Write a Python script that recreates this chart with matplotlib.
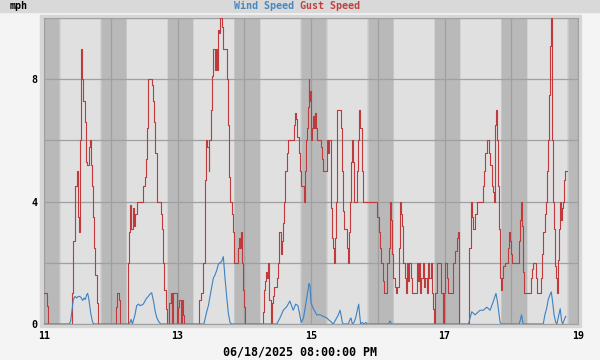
import matplotlib

matplotlib.use("Agg")
import matplotlib.pyplot as plt
from matplotlib.patches import Rectangle

# hours since 06/11 00:00 and gust speed (mph)
gust_hours = [
    0.0, 0.96, 1.56, 9.35, 9.95, 10.54, 11.14, 11.74, 12.1, 12.58, 12.94, 13.3, 13.66,
    14.14, 14.74, 15.1, 15.58, 16.06, 16.54, 16.9, 17.38, 17.74, 18.1, 18.45, 18.93,
    19.53, 25.9, 26.36, 26.84, 27.3, 30.2, 30.7, 30.92, 31.28, 31.88, 32.36, 32.84,
    33.56, 35.71, 36.19, 36.55, 36.91, 37.27, 38.71, 39.07, 39.55, 39.91, 40.51, 41.95,
    42.3, 42.67, 43.14, 43.74, 44.34, 45.06, 45.54, 46.14, 46.5, 47.7, 48.3, 48.66,
    49.14, 49.5, 49.86, 50.34, 55.85, 56.45, 57.29, 57.89, 58.37, 58.72, 59.2, 59.44,
    59.92, 60.28, 60.64, 60.88, 61.36, 61.84, 62.32, 62.68, 63.04, 63.28, 63.88, 64.24,
    64.48, 65.68, 66.04, 66.52, 66.88, 67.47, 67.83, 68.31, 69.87, 70.23, 70.47, 70.83,
    71.07, 71.43, 71.91, 72.39, 78.62, 79.1, 79.58, 79.94, 80.3, 80.66, 81.02, 81.5,
    81.86, 82.22, 82.7, 83.89, 84.25, 84.61, 85.09, 85.45, 85.81, 86.29, 86.77, 87.25,
    87.61, 89.89, 90.25, 90.6, 91.08, 91.56, 92.04, 92.52, 93.36, 93.72, 94.08, 94.44,
    94.8, 95.16, 95.4, 95.64, 96.0, 96.36, 96.72, 97.08, 97.44, 97.8, 98.28, 99.6,
    99.95, 100.43, 101.63, 101.87, 102.23, 102.59, 103.07, 103.43, 104.03, 104.39,
    104.75, 104.99, 105.23, 105.47, 106.91, 107.27, 107.62, 107.98, 108.82, 109.3,
    109.66, 110.02, 110.38, 110.62, 110.98, 111.34, 112.66, 113.02, 113.38, 113.74,
    114.22, 114.58, 119.85, 120.33, 120.81, 121.29, 121.77, 122.25, 123.44, 123.92,
    124.4, 124.76, 125.12, 125.6, 126.08, 126.56, 127.04, 127.52, 127.76, 128.0, 128.36,
    128.72, 129.2, 129.8, 130.16, 130.64, 131.0, 131.36, 131.84, 132.31, 133.99, 134.35,
    134.71, 135.19, 135.67, 136.15, 136.63, 137.11, 137.59, 138.07, 138.55, 139.03,
    139.5, 139.98, 140.34, 140.7, 141.18, 142.86, 143.34, 143.82, 144.3, 144.78, 145.38,
    147.18, 147.78, 148.37, 148.73, 149.09, 149.33, 152.93, 153.41, 153.89, 154.37,
    154.97, 155.57, 157.72, 158.2, 158.68, 159.16, 160.12, 160.36, 160.96, 161.32,
    161.8, 162.04, 162.28, 162.52, 162.76, 163.12, 163.48, 163.96, 164.43, 164.79,
    165.15, 165.63, 166.71, 167.07, 167.55, 167.91, 168.27, 170.91, 171.27, 171.63,
    171.87, 172.22, 172.58, 174.98, 175.34, 175.7, 176.9, 177.38, 178.82, 179.18,
    179.54, 180.02, 180.37, 180.73, 181.09, 181.45, 181.69, 181.93, 182.29, 182.53,
    182.77, 183.13, 183.49, 183.85, 184.21, 184.57, 184.93, 185.29, 185.65, 186.01,
    186.25, 186.61, 186.97, 187.45, 188.0,
]
gust_mph = [
    1.0, 0.6, 0, 0, 1.0, 2.7, 4.5, 5.0, 3.5, 3.0, 6.0, 9.0, 8.0,
    7.3, 6.6, 5.3, 5.2, 5.8, 6.0, 5.2, 4.5, 3.5, 2.5, 1.6, 0.7,
    0, 0.55, 1.0, 0.8, 0, 2.0, 3.0, 3.9, 3.1, 3.8, 3.2, 3.6,
    4.0, 4.5, 4.8, 5.4, 6.4, 8.0, 7.8, 7.3, 6.6, 5.6, 4.0, 3.6,
    3.1, 2.0, 1.1, 0.5, 0, 0.7, 1.0, 0, 1.0, 0, 0.55, 0.8,
    0, 0.8, 0.3, 0, 0.8, 1.0, 2.0, 4.7, 6.0, 5.8, 5.0, 6.0,
    7.0, 8.1, 8.6, 9.0, 8.3, 9.0, 8.3, 9.6, 9.5, 10.0, 9.7, 9.4,
    9.0, 8.0, 6.5, 4.8, 4.0, 3.6, 3.0, 2.0, 2.5, 2.8, 2.5, 3.0,
    2.0, 1.1, 0.55, 0, 0.4, 1.1, 1.4, 1.7, 1.5, 2.0, 0.8, 0,
    0.7, 0.9, 1.2, 1.5, 2.0, 3.0, 2.3, 2.7, 3.3, 4.0, 5.0, 5.6,
    6.0, 6.5, 6.9, 6.7, 6.1, 5.6, 5.0, 4.5, 4.0, 5.0, 6.0, 6.4,
    7.1, 8.0, 7.3, 7.6, 6.0, 6.4, 6.8, 6.4, 6.9, 6.4, 6.0, 5.8,
    5.4, 5.0, 5.4, 6.0, 5.6, 6.0, 3.8, 2.8, 2.5, 2.0,
    2.8, 4.0, 6.0, 7.0, 6.4, 5.0, 3.7, 3.1, 2.5, 2.0,
    3.0, 4.0, 5.3, 6.0, 5.3, 4.0, 5.0, 6.0, 7.0, 6.4,
    5.0, 4.0, 3.5, 3.0, 2.5, 2.0, 1.4, 1.0, 2.0, 2.5,
    4.0, 3.4, 2.3, 1.5, 1.2, 1.0, 1.2, 2.0, 2.5, 4.0, 3.6,
    3.2, 2.0, 1.5, 1.0, 2.0, 1.4, 2.0, 1.5, 1.0, 2.0, 1.4,
    2.0, 1.0, 1.5, 2.0, 1.2, 1.5, 1.0, 2.0, 1.5, 2.0,
    1.0, 0.5, 0, 1.0, 2.0, 1.0, 0, 1.0, 2.0, 1.5, 1.0,
    2.0, 2.4, 2.8, 3.0, 2.0, 0, 2.5, 4.0, 3.5, 3.1,
    3.6, 4.0, 4.5, 5.0, 5.6, 6.0, 5.6, 5.2, 4.5, 4.3,
    4.0, 5.8, 6.5, 7.0, 6.0, 4.5, 3.1, 1.5, 1.1, 1.5,
    1.9, 2.0, 2.5, 3.0, 2.7, 2.3, 2.0, 2.7, 3.4, 4.0,
    3.2, 1.7, 1.0, 1.5, 1.8, 2.0, 1.5, 1.0, 1.5, 2.3,
    3.0, 3.6, 4.0, 5.0, 6.0, 7.0, 7.5, 9.1, 10.0, 7.8,
    6.0, 4.0, 3.1, 1.9, 1.5, 1.0, 2.1, 3.1, 4.0, 3.4,
    3.8, 4.0, 4.7, 5.0, 5.0,
]

# hours since 06/11 00:00 and wind speed (mph)
wind_hours = [
    0.0, 9.1, 9.59, 10.07, 10.54, 11.14, 11.74, 12.34, 12.94, 13.42, 13.9, 14.38, 14.86,
    15.34, 15.7, 16.06, 16.54, 16.9, 17.5, 17.97, 30.5, 30.92, 31.3, 31.8, 32.72, 33.32,
    33.92, 34.52, 35.11, 35.71, 36.31, 36.91, 37.51, 38.11, 38.71, 39.07, 39.55, 39.91,
    40.51, 41.11, 41.95, 57.5, 58.0, 58.5, 59.1, 59.7, 60.28, 60.88, 61.48, 62.08, 62.68,
    63.28, 63.88, 64.48, 65.08, 65.68, 66.28, 66.88, 67.47, 83.7, 84.85, 86.05, 87.3,
    88.4, 89.6, 90.5, 91.3, 92.5, 93.3, 94.3, 95.3, 95.64, 96.0, 96.6, 97.44, 98.04,
    99.24, 100.43, 101.63, 102.83, 104.03, 104.63, 105.23, 105.83, 106.43, 106.79,
    107.27, 107.62, 109.42, 110.02, 110.38, 110.86, 111.46, 112.06, 112.66, 113.14,
    113.5, 113.86, 114.46, 115.06, 115.77, 116.25, 123.9, 124.4, 124.9, 152.6, 153.8,
    155.0, 156.8, 158.0, 159.2, 160.4, 161.6, 162.5, 163.0, 164.0, 164.6, 170.9, 171.7,
    172.3, 179.5, 180.1, 180.7, 181.3, 181.9, 182.4, 182.9, 183.4, 184.0, 184.4, 185.1,
    185.6, 186.1, 186.5, 187.1, 187.6,
]
wind_mph = [
    0, 0, 0.1, 0.45, 0.8, 0.9, 0.85, 0.9, 0.9, 0.85, 0.77, 0.85, 0.8,
    0.95, 1.0, 0.85, 0.55, 0.3, 0.05, 0, 0, 0.05, 0.15, 0, 0.3, 0.6,
    0.65, 0.6, 0.62, 0.65, 0.75, 0.85, 0.9, 0.98, 1.02, 0.88, 0.66, 0.44,
    0.22, 0.1, 0, 0, 0.2, 0.4, 0.6, 0.9, 1.2, 1.5, 1.6, 1.75, 1.95,
    2.0, 2.05, 2.2, 1.5, 0.9, 0.35, 0.05, 0, 0, 0.2, 0.45, 0.57,
    0.75, 0.45, 0.65, 0.6, 0.05, 0.2, 0.75, 1.33, 1.25, 0.7, 0.55, 0.4, 0.3,
    0.3, 0.25, 0.2, 0.1, 0, 0.1, 0.2, 0.3, 0.45, 0.3,
    0.05, 0, 0, 0.15, 0.2, 0, 0.05, 0.2, 0.45, 0.65,
    0.3, 0, 0.05, 0, 0.05, 0, 0, 0.1, 0, 0, 0.4,
    0.3, 0.45, 0.45, 0.55, 0.45, 0.75, 1.0, 0.75, 0.05, 0, 0, 0.3,
    0, 0, 0.3, 0.5, 0.8, 0.95, 1.05, 0.7, 0.3, 0.05, 0, 0.3,
    0.5, 0.1, 0, 0.15, 0.25,
]

x_ticks = [11, 12, 13, 14, 15, 16, 17, 18, 19]
x_labels = ["11", "", "13", "", "15", "", "17", "", "19"]
y_ticks = [0, 2, 4, 6, 8, 10]
y_labels = ["0", "", "4", "", "8", ""]

gust_days = [11 + h / 24 for h in gust_hours]
wind_days = [11 + h / 24 for h in wind_hours]

mono = "DejaVu Sans Mono"
fig = plt.figure(figsize=(6, 3.6), dpi=100, facecolor="#f4f4f4")

# top title band and light frame around the plot (behind the axes)
fig.patches.append(Rectangle((0, 1 - 12 / 360), 1, 12 / 360, transform=fig.transFigure,
                             color="#d9d9d9", zorder=-2))
fig.patches.append(Rectangle((40 / 600, 33 / 360), 541 / 600, 312 / 360,
                             transform=fig.transFigure, color="#d6d6d6", zorder=-2))

ax = fig.add_axes([44 / 600, 36 / 360, 534 / 600, 306 / 360])
ax.set_zorder(1)
ax.set_facecolor("#e0e0e0")

# night shading with soft twilight edges
for d in range(10, 19):
    ax.axvspan(d + 20.2 / 24, d + 1 + 6.0 / 24, color="#d2d2d2", lw=0, zorder=0.1)
    ax.axvspan(d + 20.45 / 24, d + 1 + 5.75 / 24, color="#c6c6c6", lw=0, zorder=0.1)
    ax.axvspan(d + 20.7 / 24, d + 1 + 5.5 / 24, color="#b9b9b9", lw=0, zorder=0.1)

ax.plot(gust_days, gust_mph, color="#c0393b", lw=0.8, drawstyle="steps-post", zorder=3)
ax.plot(wind_days, wind_mph, color="#3b82c4", lw=0.8, zorder=4)

ax.set_xlim(11, 19)
ax.set_ylim(0, 10)
ax.set_xticks(x_ticks)
ax.set_xticklabels(x_labels)
ax.set_yticks(y_ticks)
ax.set_yticklabels(y_labels)
ax.tick_params(length=0, pad=5, labelsize=7.2)
for lbl in ax.get_xticklabels() + ax.get_yticklabels():
    lbl.set_fontfamily(mono)
    lbl.set_fontweight("bold")
ax.set_axisbelow(True)
ax.grid(True, color="#a0a0a0", lw=0.9)
for s in ax.spines.values():
    s.set_color("#a0a0a0")

fig.text(10 / 600, 1 - 6 / 360, "mph", family=mono, weight="bold", fontsize=7.2,
         va="center", ha="left")
fig.text(0.5, 1 - 6 / 360, "Wind Speed ", family=mono, weight="bold", fontsize=7.2,
         va="center", ha="right", color="#4a86c0")
fig.text(0.5, 1 - 6 / 360, "Gust Speed", family=mono, weight="bold", fontsize=7.2,
         va="center", ha="left", color="#c04040")
fig.text(0.5, 1 - 352 / 360, "06/18/2025 08:00:00 PM", family=mono, weight="bold",
         fontsize=8.4, va="center", ha="center")

fig.savefig("out.png", dpi=100, facecolor=fig.get_facecolor())
